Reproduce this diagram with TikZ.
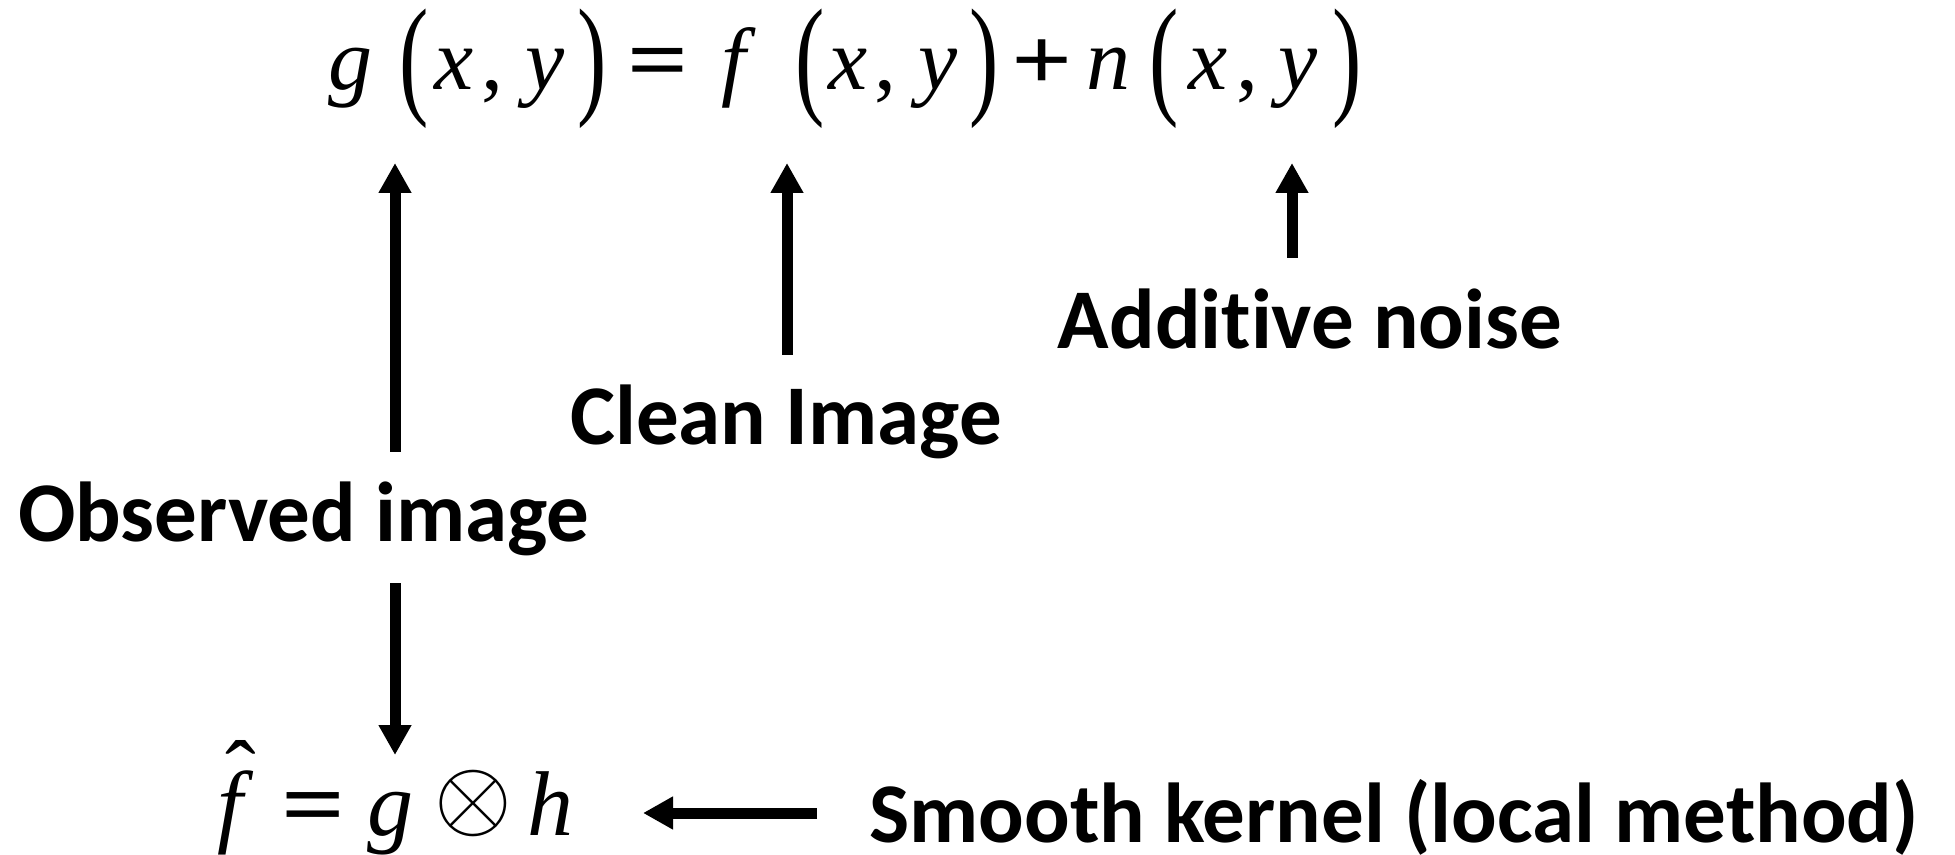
\documentclass[tikz,border=0pt]{standalone}
\usepackage{fontspec}
\usepackage{graphicx}
\usetikzlibrary{arrows.meta}
\newfontfamily\lblfont{Carlito}[Ligatures=NoCommon]
\newfontfamily\eqfont{Liberation Serif}[ItalicFont={Liberation Serif Italic}]
% one drawing unit
\newdimen\pxu \pxu=0.5pt
% glyph centred on the current point, taking no width
\newcommand\zc[1]{\makebox[0pt][c]{#1}}
\newcommand\iz[1]{\zc{\itshape #1}}
% relation and operator signs, widened
\newcommand\bz[1]{\zc{\scalebox{1.22}[1]{\bfseries #1}}}
\newcommand\gap[1]{\kern#1\pxu}
% tall parenthesis, stretched about the math axis
\newcommand\tp[1]{\zc{\raisebox{-0.125em}{\scalebox{1}[1.5]{#1}}}}
% circled times, drawn from the 10pt symbol font and enlarged
\newcommand\convop{\zc{\raisebox{3.2pt}{\scalebox{5}{\fontsize{10pt}{10pt}\selectfont$\otimes$}}}}
\tikzset{
  lbl/.style={inner sep=0pt, anchor=base, font=\lblfont\bfseries\fontsize{42.5pt}{42.5pt}\selectfont},
  eqtop/.style={inner sep=0pt, anchor=base west, font=\eqfont\fontsize{44pt}{44pt}\selectfont},
  eqbot/.style={inner sep=0pt, anchor=base west, font=\eqfont\fontsize{46pt}{46pt}\selectfont},
  arr/.style={line width=5.5pt, -{Triangle[width=15.5pt,length=15pt]}}
}
\begin{document}
\begin{tikzpicture}[x=0.5pt, y=-0.5pt]
  \fill[white] (0,0) rectangle (1955,855);
  \useasboundingbox (0,0) rectangle (1955,855);

  % degradation model
  \node[eqtop] (model) at (350,90) {%
    \iz{g}\gap{64}\tp{(}\gap{40}\iz{x}\gap{38}\zc{,}\gap{53}\iz{y}\gap{47}\tp{)}%
    \gap{66}\bz{=}\gap{75}\iz{f}\gap{77}\tp{(}\gap{38}\iz{x}\gap{37}\zc{,}\gap{53}\iz{y}\gap{46}\tp{)}%
    \gap{58}\bz{+}\gap{66}\iz{n}\gap{56}\tp{(}\gap{44}\iz{x}\gap{39}\zc{,}\gap{51}\iz{y}\gap{49}\tp{)}};

  % estimate by convolution
  \node[eqbot] (estimate) at (230,835) {%
    \iz{f}\gap{10}\zc{\raisebox{15.5pt}{ˆ}}\gap{73}\bz{=}\gap{77}\iz{g}%
    \gap{83}\convop\gap{77}\iz{h}};

  % labels
  \node[lbl] (noise) at (1310,349) {Additive noise};
  \node[lbl] (clean) at (786,445) {Clean Image};
  \node[lbl] (observed) at (304,541) {Observed image};
  \node[lbl] (kernel) at (1394,842) {Smooth kernel (local method)};

  % arrow ends
  \coordinate (gTip) at (395,163);
  \coordinate (obsTop) at (395,452);
  \coordinate (fTip) at (787,163);
  \coordinate (cleanTop) at (787,355);
  \coordinate (nTip) at (1292,163);
  \coordinate (noiseTop) at (1292,258);
  \coordinate (obsBottom) at (395,583);
  \coordinate (gBotTip) at (395,755);
  \coordinate (kernelTail) at (817,813);
  \coordinate (hTip) at (643,813);

  \draw[arr] (obsTop) -- (gTip);
  \draw[arr] (cleanTop) -- (fTip);
  \draw[arr] (noiseTop) -- (nTip);
  \draw[arr] (obsBottom) -- (gBotTip);
  \draw[arr] (kernelTail) -- (hTip);
\end{tikzpicture}
\end{document}
